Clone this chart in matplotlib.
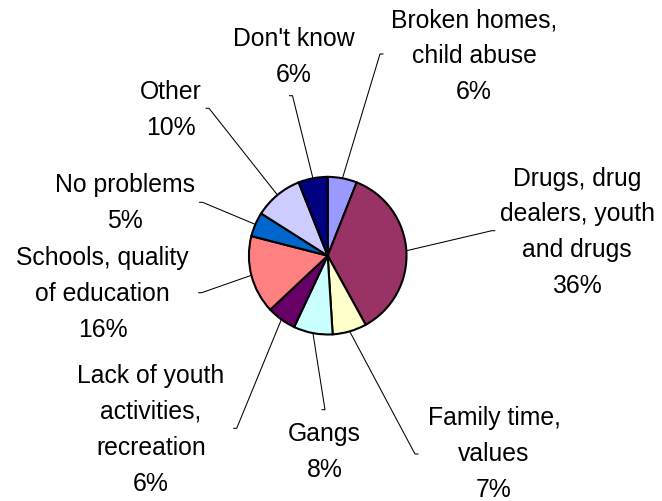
import matplotlib
matplotlib.use('Agg')
import matplotlib.pyplot as plt
import numpy as np

categories = ["Broken homes,\nchild abuse",
              "Drugs, drug\ndealers, youth\nand drugs",
              "Family time,\nvalues",
              "Gangs",
              "Lack of youth\nactivities,\nrecreation",
              "Schools, quality\nof education",
              "No problems",
              "Other",
              "Don't know"]
values = [6, 36, 7, 8, 6, 16, 5, 10, 6]
colors = ["#9999FF", "#993366", "#FFFFCC", "#CCFFFF", "#660066",
          "#FF8080", "#0066CC", "#CCCCFF", "#000080"]

# layout in pixels
W, H = 662, 502
CX, CY, R = 327.7, 256.7, 78.8
label_px = [(474, 56.3), (577, 232.3), (494, 454.3), (324.6, 452), (151, 429.8),
            (102.8, 294), (125, 203.3), (171, 110.1), (293.8, 57.3)]
elbow_px = [(380, 55), (491.8, 231.7), (415, 455), (325, 410.7), (236.7, 429.3),
            (201.7, 293.7), (202.6, 203.3), (209, 109.3), (292.5, 96.7)]


def to_data(px, py):
    return (px - CX) / R, (CY - py) / R


fig = plt.figure(figsize=(W / 100, H / 100), dpi=100)
ax = fig.add_axes([0, 0, 1, 1])
ax.pie(values, colors=colors, startangle=90, counterclock=False, radius=1,
       center=(0, 0),
       wedgeprops=dict(edgecolor='black', linewidth=1.5))
ax.set_xlim(-CX / R, (W - CX) / R)
ax.set_ylim(-(H - CY) / R, CY / R)
ax.set_aspect('auto')
ax.axis('off')

total = float(sum(values))
cum = 0.0
for cat, v, lp, ep in zip(categories, values, label_px, elbow_px):
    mid = np.deg2rad(90 - 360 * (cum + v / 2) / total)
    cum += v
    sx, sy = np.cos(mid), np.sin(mid)
    ex, ey = to_data(*ep)
    side = 1 if ep[0] > CX else -1
    tx = ex + side * 3.5 / R
    ax.plot([sx, ex, tx], [sy, ey, ey], color='black', linewidth=0.75,
            solid_capstyle='butt', zorder=0)
    lx, ly = to_data(*lp)
    ax.text(lx, ly, f"{cat}\n{v}%", ha='center', va='center',
            multialignment='center', fontsize=17.8, linespacing=1.623,
            family='Liberation Sans', color='black')

fig.savefig('out.png', dpi=100)
